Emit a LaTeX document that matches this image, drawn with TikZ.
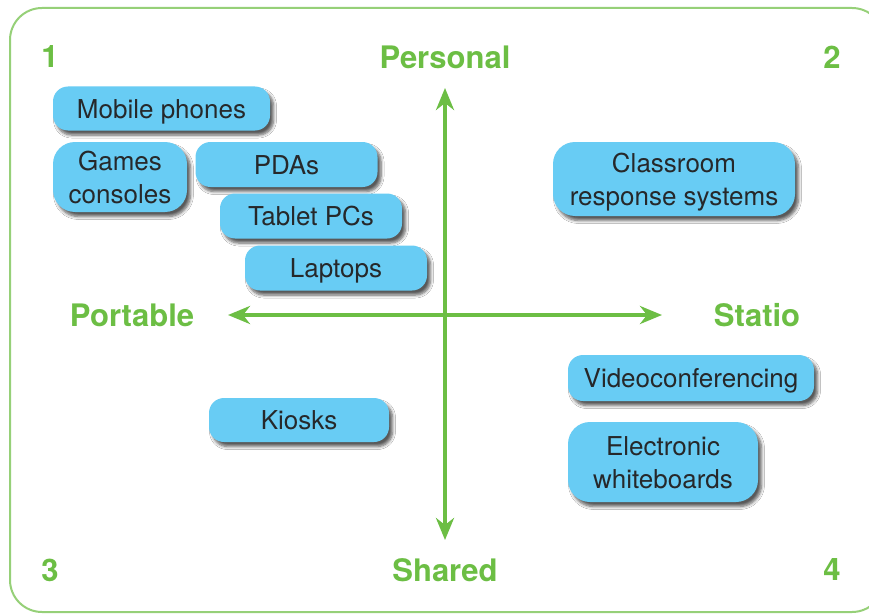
\documentclass[tikz,border=0pt]{standalone}
\usepackage{fontspec}
\setmainfont{TeX Gyre Heros}
\usetikzlibrary{arrows.meta,shadows.blur}
\definecolor{boxblue}{RGB}{104,204,244}
\definecolor{labgreen}{RGB}{108,190,68}
\definecolor{framegreen}{RGB}{150,208,120}
\definecolor{txtgray}{RGB}{38,40,42}
\tikzset{
  item/.style={fill=boxblue, rounded corners=15pt, inner sep=0pt, align=center,
    text=txtgray, font=\fontsize{26}{33}\selectfont, text height=22pt, text depth=2.5pt,
    blur shadow={shadow xshift=3.5pt, shadow yshift=-4.5pt, shadow blur steps=6, shadow blur radius=3pt, shadow opacity=65}},
  tall/.style={rounded corners=22pt, text height=55pt, text depth=2.5pt},
  axislab/.style={text=labgreen, font=\fontsize{31}{33}\selectfont\bfseries, inner sep=0pt},
  axis/.style={draw=labgreen, line width=4pt, {Stealth[length=22pt,width=18pt,inset=7pt]}-{Stealth[length=22pt,width=18pt,inset=7pt]}}
}
\begin{document}
\begin{tikzpicture}[x=1pt,y=-1pt]
\useasboundingbox (0,0) rectangle (869,615);
\clip (0,0) rectangle (869,615);
\fill[white] (0,0) rectangle (869,615);
\draw[framegreen, line width=2pt, rounded corners=32pt] (10,8) rectangle (884,612);

% axes
\coordinate (top) at (445,88);
\coordinate (bot) at (445,540);
\coordinate (lft) at (228,315);
\coordinate (rgt) at (662,315);
\draw[axis] (top) -- (bot);
\draw[axis] (lft) -- (rgt);

% labels
\node[axislab] (n1) at (50,57) {1};
\node[axislab] (n2) at (832,57) {2};
\node[axislab] (n3) at (50,570) {3};
\node[axislab] (n4) at (832,570) {4};
\node[axislab] (pers) at (445,57) {Personal};
\node[axislab] (shar) at (445,570) {Shared};
\node[axislab] (port) at (132,315) {Portable};
\node[axislab] (stat) at (757,315) {Statio};

% items
\node[item, minimum width=217pt, minimum height=44pt] (mob) at (161.5,108.5) {Mobile phones};
\node[item, tall, minimum width=134pt, minimum height=70pt] (game) at (120,177) {Games\\consoles};
\node[item, minimum width=182pt, minimum height=45pt] (pda) at (286.5,164.5) {PDAs};
\node[item, minimum width=182pt, minimum height=45pt] (tab) at (311,216) {Tablet PCs};
\node[item, minimum width=182pt, minimum height=45pt] (lap) at (336,268) {Laptops};
\node[item, tall, minimum width=242pt, minimum height=74pt] (crs) at (674,179) {Classroom\\response systems};
\node[item, minimum width=180pt, minimum height=44pt] (kio) at (299,420) {Kiosks};
\node[item, minimum width=246pt, minimum height=46pt] (vid) at (691,378) {Videoconferencing};
\node[item, tall, minimum width=190pt, minimum height=80pt] (ewb) at (663,462) {Electronic\\whiteboards};
\end{tikzpicture}
\end{document}
